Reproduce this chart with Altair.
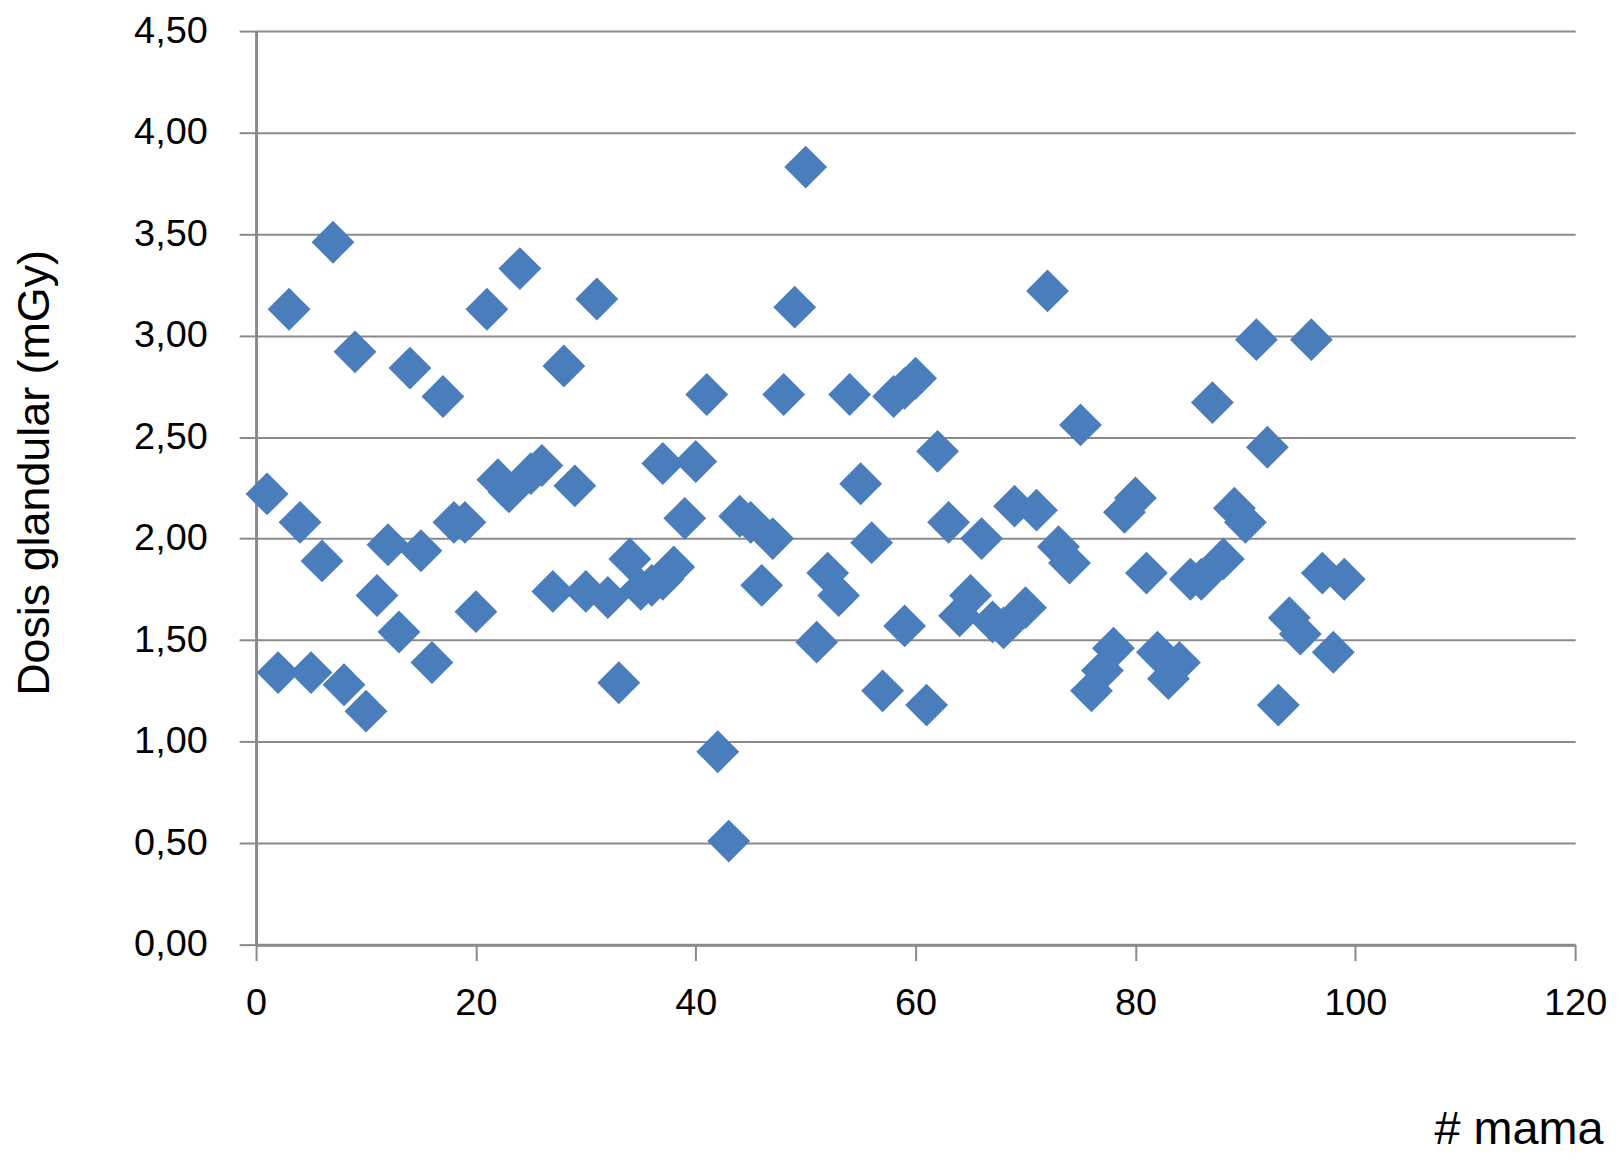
import altair as alt
import pandas as pd

mama = [1, 2, 3, 4, 5, 6, 7, 8, 9, 10,
        11, 12, 13, 14, 15, 16, 17, 18, 19, 20,
        21, 22, 23, 24, 25, 26, 27, 28, 29, 30,
        31, 32, 33, 34, 35, 36, 37, 37, 38, 39, 40,
        41, 42, 43, 44, 45, 46, 47, 48, 49, 50,
        51, 52, 53, 54, 55, 56, 57, 58, 59, 59, 60,
        61, 62, 63, 64, 65, 66, 67, 68, 69, 70,
        71, 72, 73, 74, 75, 76, 77, 78, 79, 80,
        81, 82, 83, 84, 85, 86, 87, 88, 89, 90,
        91, 92, 93, 94, 95, 96, 97, 98, 99]
dosis = [2.22, 1.34, 3.13, 2.08, 1.34, 1.89, 3.46, 1.28, 2.92, 1.15,
         1.72, 1.97, 1.54, 2.84, 1.94, 1.39, 2.70, 2.08, 2.08, 1.64,
         3.13, 2.29, 2.23, 3.33, 2.32, 2.36, 1.74, 2.85, 2.26, 1.74,
         3.18, 1.71, 1.29, 1.90, 1.75, 1.77, 2.37, 1.80, 1.86, 2.10, 2.38,
         2.71, 0.95, 0.51, 2.11, 2.08, 1.77, 2.00, 2.71, 3.14, 3.83,
         1.49, 1.83, 1.72, 2.71, 2.27, 1.98, 1.25, 2.70, 2.74, 1.57, 2.79,
         1.18, 2.43, 2.08, 1.62, 1.72, 2.00, 1.59, 1.56, 2.16, 1.66,
         2.14, 3.22, 1.96, 1.88, 2.56, 1.25, 1.35, 1.46, 2.13, 2.20,
         1.83, 1.44, 1.31, 1.39, 1.80, 1.80, 2.67, 1.90, 2.15, 2.08,
         2.98, 2.45, 1.18, 1.61, 1.53, 2.98, 1.83, 1.44, 1.80]

x_ticks = [0, 20, 40, 60, 80, 100, 120]
y_ticks = [0.0, 0.5, 1.0, 1.5, 2.0, 2.5, 3.0, 3.5, 4.0, 4.5]

df = pd.DataFrame({"mama": mama, "dosis": dosis})

FONT = "Liberation Sans, Arial, Helvetica, sans-serif"
GRAY = "#8a8a8a"

chart = alt.Chart(df).mark_point(
    shape="diamond", filled=True, size=1850, color="#4a7dbc", opacity=1
).encode(
    x=alt.X("mama:Q",
            scale=alt.Scale(domain=[0, 120], nice=False, zero=False),
            axis=alt.Axis(values=x_ticks, grid=False, title="# mama",
                          labelFont=FONT, labelFontSize=38, labelColor="#000",
                          labelFlush=False,
                          labelPadding=24, tickSize=16, tickColor=GRAY, tickWidth=2,
                          domainColor=GRAY, domainWidth=3,
                          titleFont=FONT, titleFontSize=47, titleFontWeight="normal",
                          titleColor="#000", titleAlign="right", titleAnchor="end",
                          titleX=1352, titleY=200, titleBaseline="alphabetic")),
    y=alt.Y("dosis:Q",
            scale=alt.Scale(domain=[0, 4.5], nice=False),
            axis=alt.Axis(values=y_ticks, grid=True, gridColor=GRAY, gridWidth=2,
                          labelExpr="replace(format(datum.value, '.2f'), '.', ',')",
                          labelFont=FONT, labelFontSize=38, labelColor="#000",
                          labelFlush=False,
                          labelPadding=32, tickSize=17, tickColor=GRAY, tickWidth=2,
                          domainColor=GRAY, domainWidth=3,
                          title="Dosis glandular (mGy)",
                          titleFont=FONT, titleFontSize=45, titleFontWeight="normal",
                          titleColor="#000", titleX=-222, titleY=443,
                          titleAlign="center", titleBaseline="middle", titleAngle=-90)),
).properties(
    width=1324, height=917,
    autosize=alt.AutoSizeParams(type="none"),
    padding={"left": 249, "top": 21, "right": 36, "bottom": 212},
).configure(background="white").configure_view(strokeWidth=0, stroke="transparent")

chart.save("out.html", embed_options={"renderer": "svg", "actions": False})
